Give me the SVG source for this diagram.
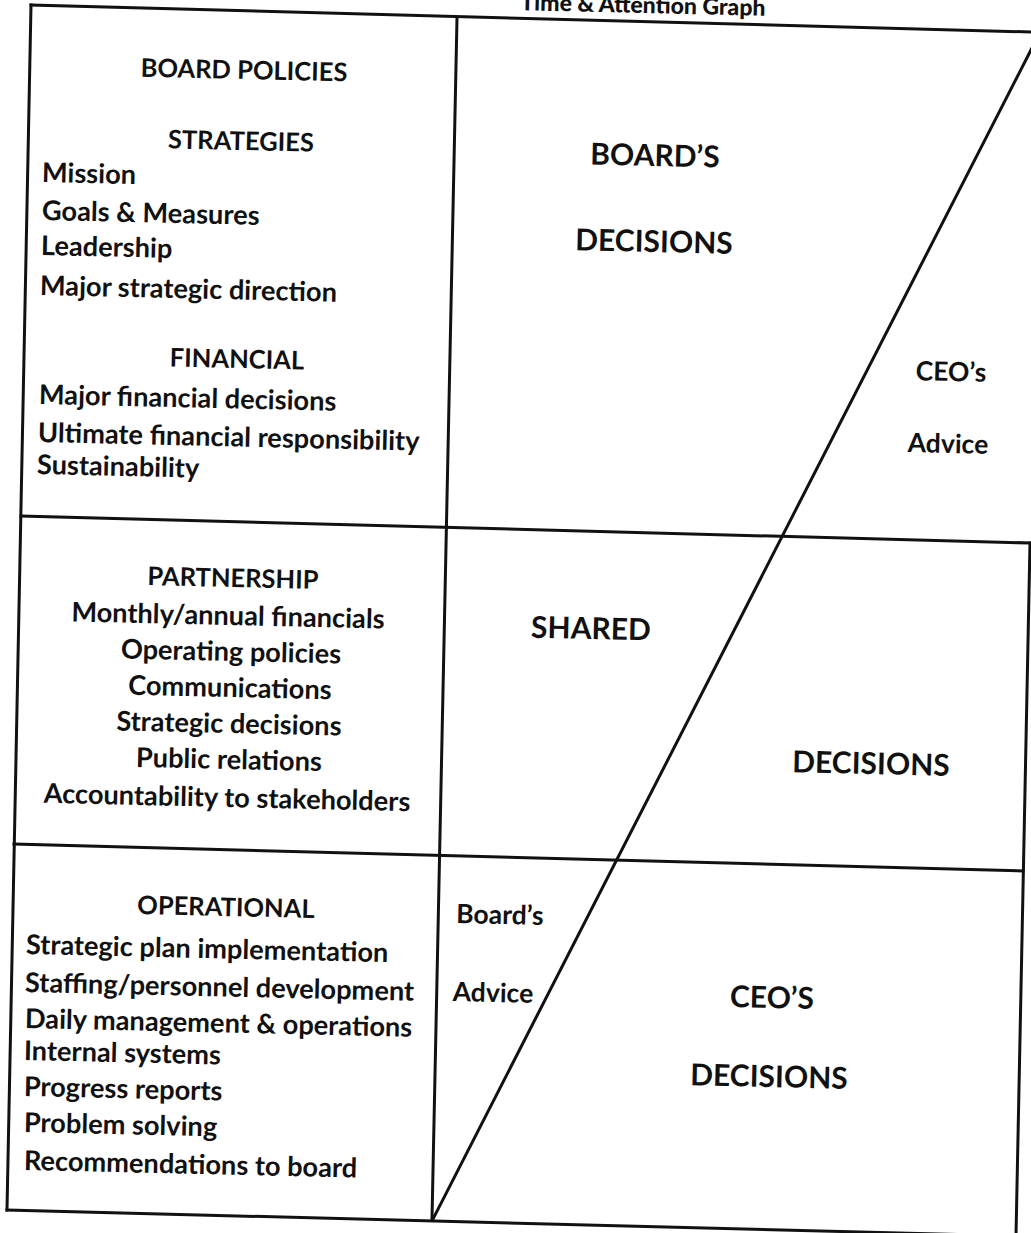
<svg xmlns="http://www.w3.org/2000/svg" width="1031" height="1233" viewBox="0 0 1031 1233">
<style>
text{font-family:Lato,"Liberation Sans",sans-serif;font-weight:bold;fill:#111;transform-box:fill-box;transform:rotate(1.3deg)}
.s{font-size:27.2px;transform-origin:0% 50%}
.h{font-size:25.5px;text-anchor:middle;transform-origin:50% 50%}
.m{font-size:27.2px;text-anchor:middle;transform-origin:50% 50%}
.a{font-size:26.5px;text-anchor:middle;transform-origin:50% 50%}
.b{font-size:30px;text-anchor:middle;transform-origin:50% 50%}
.t{font-size:23px;text-anchor:middle;transform-origin:50% 50%;font-weight:900}
.ln{fill:none;stroke:#111;stroke-width:3;stroke-linecap:square}
</style>
<rect width="1031" height="1233" fill="#fff"/>
<g id="connectors">
<path class="ln" d="M31,5 L1031,32"/>
<path class="ln" d="M31,5 L7,1210"/>
<path class="ln" d="M7,1210 L1016,1236"/>
<path class="ln" d="M1030,543 L1016,1236"/>
<path class="ln" d="M457,18 L432,1219"/>
<path class="ln" d="M21,516 L1030,543"/>
<path class="ln" d="M14,844 L1023,871"/>
<path class="ln" d="M1034,44 L433,1219"/>
</g>
<g id="title"><text class="t" x="643" y="13">Time &amp; Attention Graph</text></g>
<g id="board-policies">
<text class="h" x="244" y="79">BOARD POLICIES</text>
<text class="h" x="241" y="150">STRATEGIES</text>
<text class="s" x="42" y="182">Mission</text>
<text class="s" x="42" y="220">Goals &amp; Measures</text>
<text class="s" x="41" y="255">Leadership</text>
<text class="s" x="40" y="295">Major strategic direction</text>
<text class="h" x="237" y="368">FINANCIAL</text>
<text class="s" x="39" y="404">Major financial decisions</text>
<text class="s" x="38" y="442">Ultimate financial responsibility</text>
<text class="s" x="37" y="474">Sustainability</text>
</g>
<g id="boards-decisions">
<text class="b" x="655" y="166">BOARD’S</text>
<text class="b" x="654" y="252">DECISIONS</text>
<text class="a" x="951" y="381">CEO’s</text>
<text class="a" x="948" y="453">Advice</text>
</g>
<g id="partnership">
<text class="h" x="233" y="587">PARTNERSHIP</text>
<text class="m" x="228" y="625">Monthly/annual financials</text>
<text class="m" x="231" y="661">Operating policies</text>
<text class="m" x="230" y="697">Communications</text>
<text class="m" x="229" y="733">Strategic decisions</text>
<text class="m" x="229" y="769">Public relations</text>
<text class="m" x="227" y="807">Accountability to stakeholders</text>
</g>
<g id="shared-decisions">
<text class="b" x="591" y="639">SHARED</text>
<text class="b" x="871" y="774">DECISIONS</text>
</g>
<g id="operational">
<text class="h" x="226" y="916">OPERATIONAL</text>
<text class="s" x="26" y="954">Strategic plan implementation</text>
<text class="s" x="25" y="992">Staffing/personnel development</text>
<text class="s" x="25" y="1028">Daily management &amp; operations</text>
<text class="s" x="24" y="1060">Internal systems</text>
<text class="s" x="24" y="1096">Progress reports</text>
<text class="s" x="24" y="1132">Problem solving</text>
<text class="s" x="24" y="1170">Recommendations to board</text>
</g>
<g id="ceo-decisions">
<text class="a" x="500" y="924">Board’s</text>
<text class="a" x="493" y="1002">Advice</text>
<text class="b" x="772" y="1008">CEO’S</text>
<text class="b" x="769" y="1087">DECISIONS</text>
</g>
</svg>
